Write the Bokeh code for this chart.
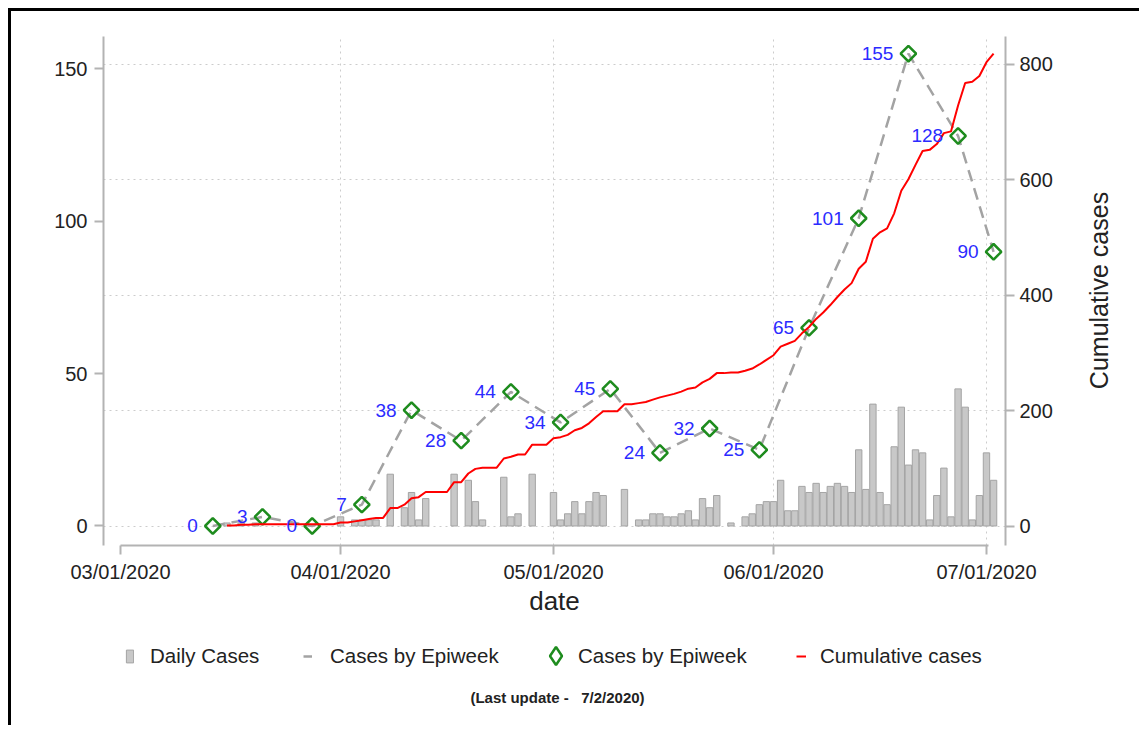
import numpy as np
import pandas as pd
from bokeh.plotting import figure
from bokeh.models import (Range1d, LinearAxis, FixedTicker, DatetimeTickFormatter,
                          Grid, Legend, LegendItem, Label)
from bokeh.layouts import row, column
from bokeh.embed import file_html
from bokeh.resources import INLINE
from bokeh.core.properties import value

# ---------------- data ----------------
daily_start = "2020-03-16"
daily_cases = [
    1, 0, 1, 0, 1, 0,                 # Mar 16 - Mar 21
    0, 0, 0, 0, 0, 0, 0,              # Mar 22 - Mar 28
    0, 0, 0, 3, 0, 2, 2,              # Mar 29 - Apr 4
    2, 2, 0, 17, 0, 6, 11,            # Apr 5 - Apr 11
    2, 9, 0, 0, 0, 17, 0,             # Apr 12 - Apr 18
    15, 8, 2, 0, 0, 16, 3,            # Apr 19 - Apr 25
    4, 0, 17, 0, 0, 11, 2,            # Apr 26 - May 2
    4, 8, 4, 8, 11, 10, 0,            # May 3 - May 9
    0, 12, 0, 2, 2, 4, 4,             # May 10 - May 16
    3, 3, 4, 5, 2, 9, 6,              # May 17 - May 23
    10, 0, 1, 0, 3, 4, 7,             # May 24 - May 30
    8, 8, 15, 5, 5, 13, 11,           # May 31 - Jun 6
    14, 11, 13, 14, 13, 11, 25,       # Jun 7 - Jun 13
    12, 40, 11, 7, 26, 39, 20,        # Jun 14 - Jun 20
    25, 24, 2, 10, 19, 3, 45,         # Jun 21 - Jun 27
    39, 2, 10, 24, 15,                # Jun 28 - Jul 2
]
week_dates = ["2020-03-14", "2020-03-21", "2020-03-28", "2020-04-04", "2020-04-11",
              "2020-04-18", "2020-04-25", "2020-05-02", "2020-05-09", "2020-05-16",
              "2020-05-23", "2020-05-30", "2020-06-06", "2020-06-13", "2020-06-20",
              "2020-06-27", "2020-07-02"]
week_cases = [0, 3, 0, 7, 38, 28, 44, 34, 45, 24, 32, 25, 65, 101, 155, 128, 90]
x_tick_dates = ["2020-03-01", "2020-04-01", "2020-05-01", "2020-06-01", "2020-07-01"]
left_ticks = [0, 50, 100, 150]
right_ticks = [0, 200, 400, 600, 800]

# ---------------- helpers ----------------
DAY = 86400000.0
def ms(d):
    return pd.Timestamp(d).value / 1e6

daily_x = [ms(daily_start) + i * DAY for i in range(len(daily_cases))]
cum_vals = list(np.cumsum(daily_cases))
bar_x = [x for x, v in zip(daily_x, daily_cases) if v > 0]
bar_v = [v for v in daily_cases if v > 0]
week_x = [ms(d) for d in week_dates]
tick_ms = [ms(d) for d in x_tick_dates]

FONT = "Liberation Sans"
AX_COL = "#b3b3b3"
TXT = "#222222"

BAR_STYLE = dict(fill_color="#c8c8c8", line_color="#a4a4a4", line_width=1)
DASH_STYLE = dict(line_color="#a3a3a3", line_width=2.5, line_dash="12 7")
DIA_STYLE = dict(marker="square", angle=np.pi / 4, size=11, fill_color=None,
                 line_color="#1e8c1e", line_width=2.5)
CUM_STYLE = dict(line_color="#ff0000", line_width=2)

H1 = 624
FRAME_BOTTOM = 534
m1 = tick_ms[0]
p = figure(width=1050, height=H1,
           x_range=Range1d(m1 - 2.395 * DAY, m1 + 124.68 * DAY),
           y_range=Range1d(-6.40, 160.65),
           x_axis_type="datetime",
           output_backend="svg", toolbar_location=None,
           min_border_left=92, min_border_right=56,
           min_border_top=25, min_border_bottom=H1 - FRAME_BOTTOM,
           outline_line_color=None,
           background_fill_color="white", border_fill_color="white")
p.extra_y_ranges = {"cum": Range1d(-33.80, 848.5)}
p.xgrid.visible = False
p.ygrid.visible = False

vgrid = Grid(dimension=0, ticker=FixedTicker(ticks=tick_ms[1:]),
             grid_line_color="#cccccc", grid_line_dash="2 4", grid_line_width=1)
hgrid = Grid(dimension=1, y_range_name="cum", ticker=FixedTicker(ticks=right_ticks),
             grid_line_color="#cccccc", grid_line_dash="2 4", grid_line_width=1)
p.add_layout(vgrid)
p.add_layout(hgrid)

def style_axis(ax):
    ax.axis_line_color = AX_COL
    ax.axis_line_width = 2
    ax.major_tick_line_color = AX_COL
    ax.major_tick_line_width = 2
    ax.major_tick_out = 9
    ax.major_tick_in = 0
    ax.minor_tick_line_color = None
    ax.major_label_text_font = FONT
    ax.major_label_text_font_size = "20px"
    ax.major_label_text_color = TXT

xa = p.xaxis[0]
xa.ticker = FixedTicker(ticks=tick_ms)
fmt = "%m/%d/%Y"
xa.formatter = DatetimeTickFormatter(days=fmt, months=fmt, years=fmt, hours=fmt,
                                     minutes=fmt, seconds=fmt, milliseconds=fmt,
                                     hourmin=fmt, minsec=fmt, microseconds=fmt)
xa.bounds = (tick_ms[0], tick_ms[-1] + 0.3 * DAY)
style_axis(xa)
xa.major_label_standoff = 6
xa.axis_label = "date"
xa.axis_label_standoff = 0
xa.axis_label_text_font = FONT
xa.axis_label_text_font_size = "26px"
xa.axis_label_text_font_style = "normal"
xa.axis_label_text_color = TXT

ya = p.yaxis[0]
ya.ticker = FixedTicker(ticks=left_ticks)
style_axis(ya)
ya.major_label_standoff = 7

ra = LinearAxis(y_range_name="cum", ticker=FixedTicker(ticks=right_ticks))
style_axis(ra)
ra.major_label_standoff = 5
p.add_layout(ra, "right")

bars = p.vbar(x=bar_x, top=bar_v, bottom=0, width=0.9 * DAY, **BAR_STYLE)
dash = p.line(week_x, week_cases, **DASH_STYLE)
dia = p.scatter(week_x, week_cases, **DIA_STYLE)
cum = p.line(daily_x, cum_vals, y_range_name="cum", **CUM_STYLE)

p.text(x=week_x, y=week_cases, text=[str(v) for v in week_cases],
       text_align="right", text_baseline="middle", x_offset=-15,
       text_font=value(FONT), text_font_size="19px", text_color="#2b2bff")

# ---- right title panel (its frame is aligned with the main frame) ----
p3 = figure(width=78, height=H1, x_range=Range1d(0, 1), y_range=Range1d(0, 1),
            output_backend="svg", toolbar_location=None,
            x_axis_location=None, y_axis_location=None, min_border=0,
            outline_line_color=None, background_fill_color="white",
            border_fill_color="white")
p3.xgrid.visible = False
p3.ygrid.visible = False
p3.add_layout(Label(x=37, y=FRAME_BOTTOM - 279, x_units="screen", y_units="screen",
                    text="Cumulative cases", angle=np.pi / 2,
                    text_align="center", text_baseline="middle",
                    text_font=FONT, text_font_size="25px", text_color=TXT))

# ---- legend / note panel ----
H2 = 90
p2 = figure(width=1128, height=H2, x_range=Range1d(0, 1), y_range=Range1d(0, 1),
            output_backend="svg", toolbar_location=None,
            x_axis_location=None, y_axis_location=None, min_border=0,
            outline_line_color=None, background_fill_color="white",
            border_fill_color="white")
p2.xgrid.visible = False
p2.ygrid.visible = False
# legend keys only: one point each, kept outside the visible range
lb = p2.vbar(x=[-5], top=[-5], bottom=[-6], width=0.1, **BAR_STYLE)
ld = p2.line(x=[-5, -4], y=[-5, -5], **DASH_STYLE)
lm = p2.scatter(x=[-5], y=[-5], marker="diamond", size=11, fill_color=None,
                line_color="#1e8c1e", line_width=2.5)
lc = p2.line(x=[-5, -4], y=[-5, -5], **CUM_STYLE)

LEG_COMMON = dict(orientation="horizontal", border_line_color=None,
                  background_fill_alpha=0, padding=0, margin=0,
                  label_text_font=FONT, label_text_font_size="20.5px",
                  label_text_color=TXT, label_height=18)

def add_key(label, rend, x, y, gw, gh, standoff):
    lg = Legend(items=[LegendItem(label=label, renderers=[rend])],
                location=(x, y), glyph_width=gw, glyph_height=gh,
                label_standoff=standoff, **LEG_COMMON)
    p2.add_layout(lg)

add_key("Daily Cases", lb, 114, H2 - 33, 9, 16, 16)
add_key("Cases by Epiweek", ld, 292, H2 - 33, 9, 16, 18)
add_key("Cases by Epiweek", lm, 522, H2 - 43, 45, 45, -8)
add_key("Cumulative cases", lc, 785, H2 - 33, 10, 16, 14)

p2.add_layout(Label(x=546, y=H2 - 62, x_units="screen", y_units="screen",
                    text="(Last update -\u00a0\u00a0 7/2/2020)",
                    text_align="center", text_baseline="middle",
                    text_font=FONT, text_font_size="15px", text_font_style="bold",
                    text_color=TXT))

outer = column(row(p, p3), p2)
outer.styles = {"margin-left": "8px", "margin-top": "8px",
                "border-left": "3px solid black", "border-top": "3px solid black"}

open("out.html", "w").write(file_html(outer, INLINE))
